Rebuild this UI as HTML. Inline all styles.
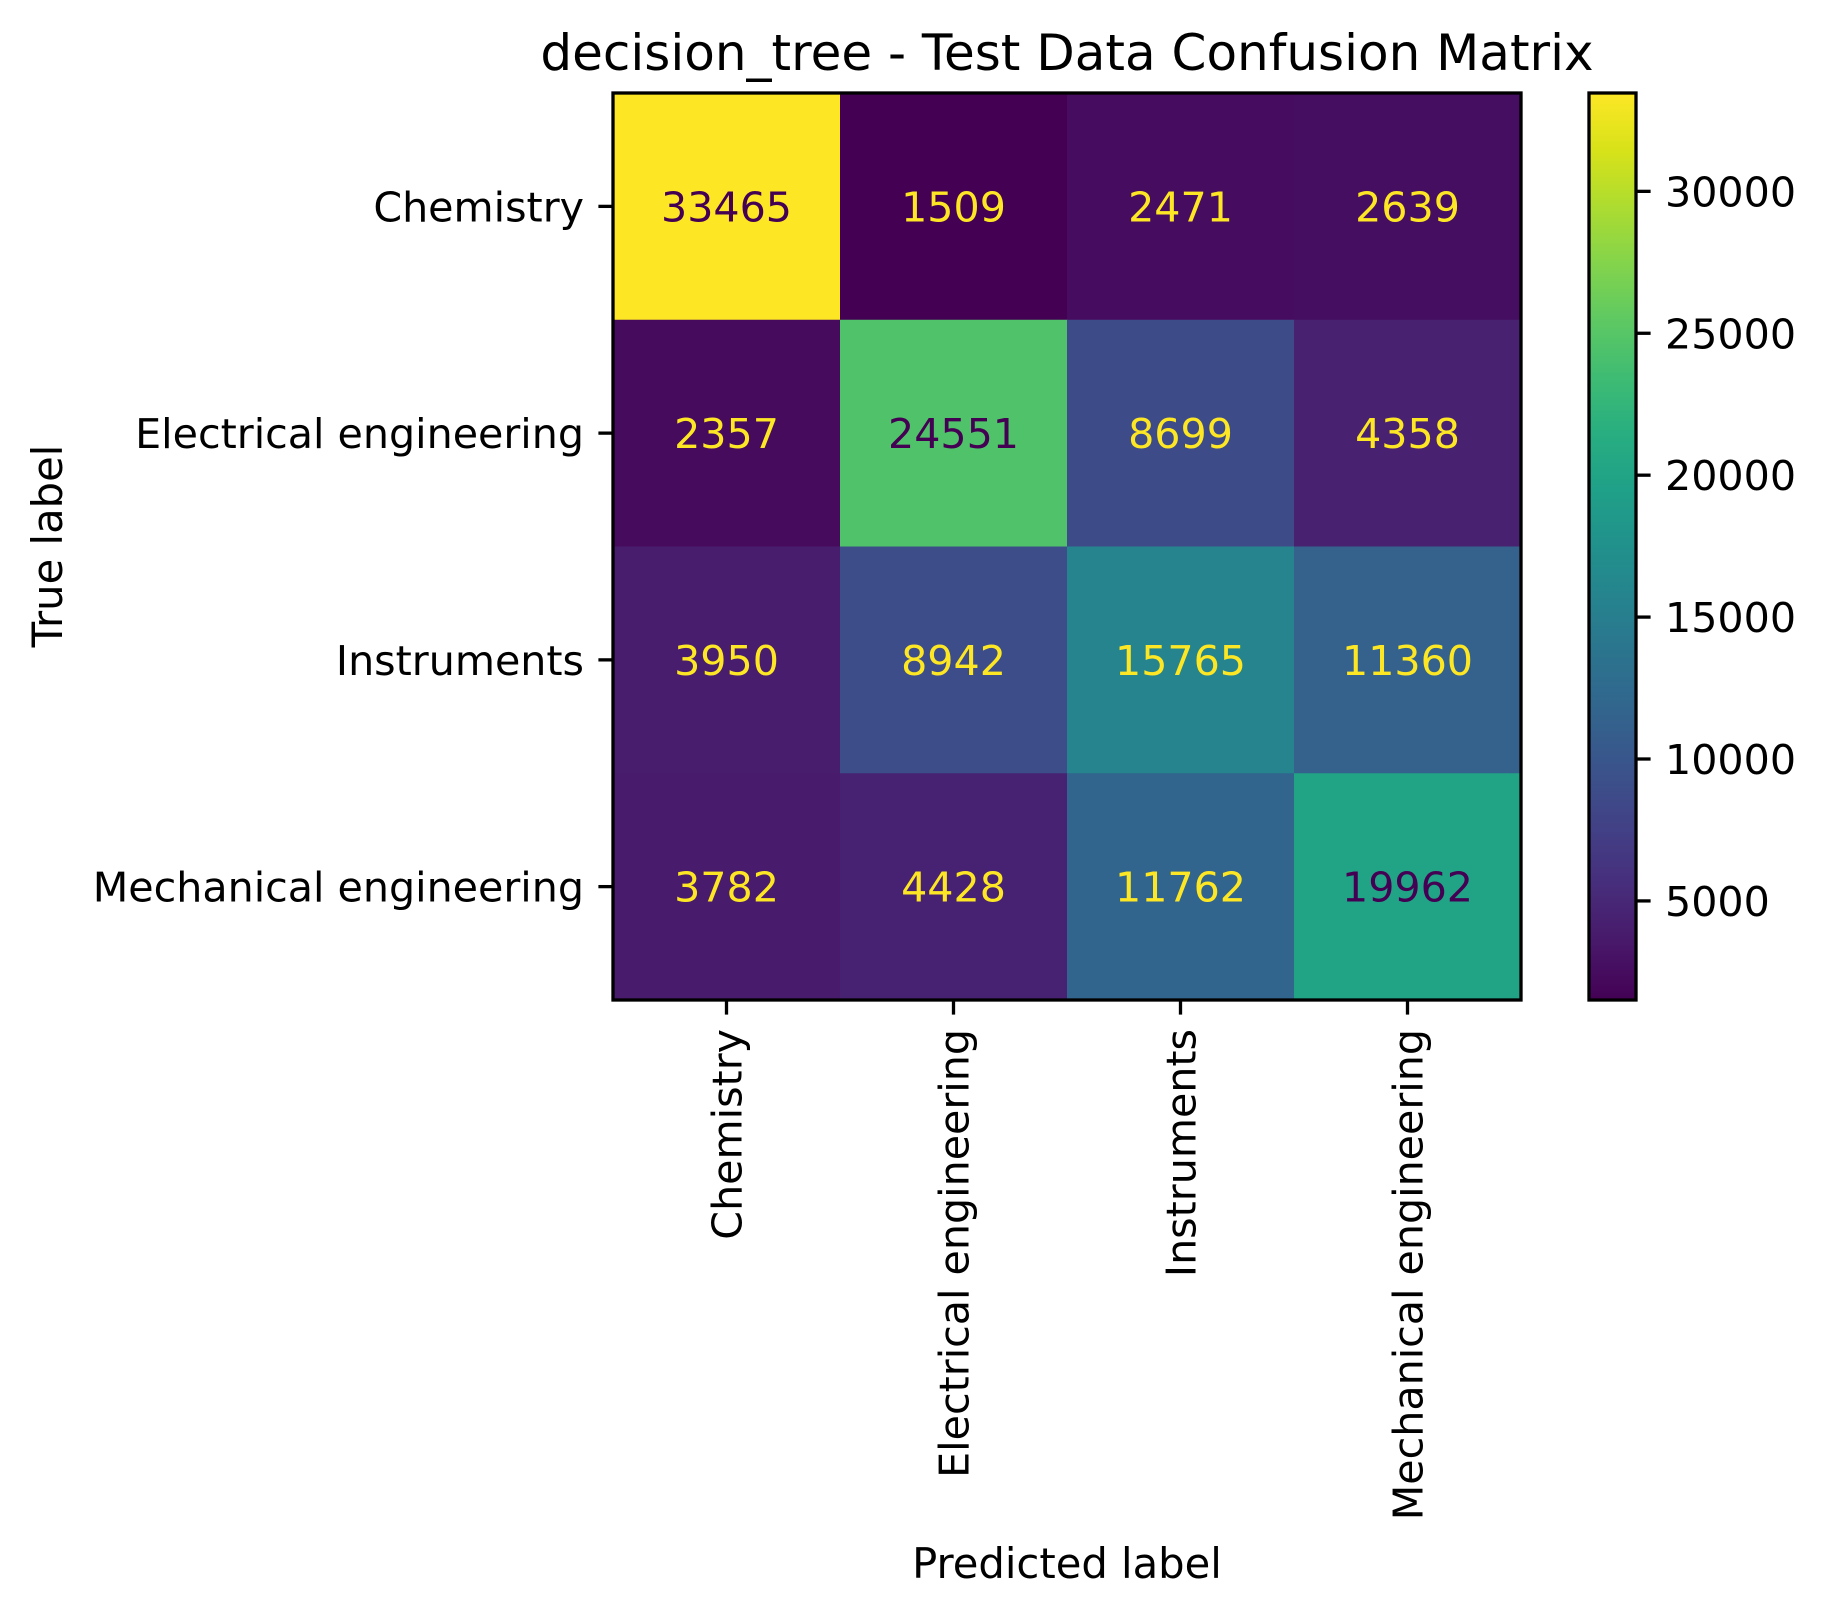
<!DOCTYPE html>
<html><head><meta charset="utf-8"><style>
html,body{margin:0;padding:0;background:#fff;}
svg{display:block;font-family:"DejaVu Sans","Liberation Sans",sans-serif;}
</style></head><body>
<svg id="chart" width="1826" height="1613" viewBox="0 0 1826 1613" xmlns="http://www.w3.org/2000/svg">
<defs><linearGradient id="vir" x1="0" y1="1" x2="0" y2="0"></linearGradient></defs>
<rect width="1826" height="1613" fill="#fff"/>
<text x="1067" y="70" font-size="50" text-anchor="middle">decision_tree - Test Data Confusion Matrix</text>
<g id="cells"></g>
<g id="axes"></g>
<text x="0" y="0" font-size="41.7" text-anchor="middle" transform="translate(62,546) rotate(-90)">True label</text>
<text x="1067" y="1578" font-size="41.7" text-anchor="middle">Predicted label</text>
</svg>
<script>
const labels = ["Chemistry","Electrical engineering","Instruments","Mechanical engineering"];
const row0 = [33465,1509,2471,2639];
const row1 = [2357,24551,8699,4358];
const row2 = [3950,8942,15765,11360];
const row3 = [3782,4428,11762,19962];
const cbTicks = [5000,10000,15000,20000,25000,30000];

const matrix=[row0,row1,row2,row3];
const NS="http://www.w3.org/2000/svg";
const vir=["#440154","#48186a","#472d7b","#424086","#3b528b","#33638d","#2c728e","#26828e","#21918c","#1fa088","#28ae80","#3fbc73","#5ec962","#84d44b","#addc30","#d8e219","#fde725"];
function hex(h){return [1,3,5].map(i=>parseInt(h.substr(i,2),16));}
function viridis(t){t=Math.max(0,Math.min(1,t));const p=t*(vir.length-1);const i=Math.min(Math.floor(p),vir.length-2);const f=p-i;const a=hex(vir[i]),b=hex(vir[i+1]);return "rgb("+a.map((v,k)=>Math.round(v+(b[k]-v)*f)).join(",")+")";}
const all=matrix.flat();const vmin=Math.min(...all),vmax=Math.max(...all);
const L=613,T=93,W=908,H=907;
const n=labels.length, cw=W/n, ch=H/n;
const xPos=j=>L+cw*(j+0.5), yPos=i=>T+ch*(i+0.5);
function el(tag,attrs,parent){const e=document.createElementNS(NS,tag);for(const k in attrs)e.setAttribute(k,attrs[k]);parent.appendChild(e);return e;}
const cells=document.getElementById('cells'), axes=document.getElementById('axes');
const mid=(vmin+vmax)/2;
matrix.forEach((row,i)=>row.forEach((v,j)=>{
  const r=el('rect',{x:L+cw*j,y:T+ch*i,width:cw+0.5,height:ch+0.5,fill:viridis((v-vmin)/(vmax-vmin))},cells);
  
  
  const t=el('text',{x:xPos(j),y:yPos(i)+15,'font-size':41.2,'text-anchor':'middle',fill:v<mid?viridis(1):viridis(0)},cells);
  t.textContent=v;
  
  
}));
const frame=el('rect',{x:L,y:T,width:W,height:H,fill:'none',stroke:'#000','stroke-width':3.3},axes);


labels.forEach((lab,i)=>{
  el('line',{x1:L,x2:L-14.6,y1:yPos(i),y2:yPos(i),stroke:'#000','stroke-width':3.3},axes);
  const t=el('text',{x:L-29,y:yPos(i)+15,'font-size':41.2,'text-anchor':'end'},axes);
  t.textContent=lab;
  
  
  el('line',{x1:xPos(i),x2:xPos(i),y1:T+H,y2:T+H+14.6,stroke:'#000','stroke-width':3.3},axes);
  const u=el('text',{x:0,y:0,'font-size':41.2,'text-anchor':'end',transform:'translate('+(xPos(i)+15)+','+(T+H+29)+') rotate(-90)'},axes);
  u.textContent=lab;
  
  
});
const g=document.getElementById('vir');
vir.forEach((c,k)=>el('stop',{offset:k/(vir.length-1),'stop-color':c},g));
const CX=1589,CW=47;
const cb=el('rect',{x:CX,y:T,width:CW,height:H,fill:'url(#vir)',stroke:'#000','stroke-width':3.3},axes);


const cy=v=>T+H-(v-vmin)/(vmax-vmin)*H;
cbTicks.forEach(v=>{
  el('line',{x1:CX+CW,x2:CX+CW+14.6,y1:cy(v),y2:cy(v),stroke:'#000','stroke-width':3.3},axes);
  const t=el('text',{x:CX+CW+29,y:cy(v)+15,'font-size':41.2},axes);
  t.textContent=v;
  
  
});
</script>
</body></html>
